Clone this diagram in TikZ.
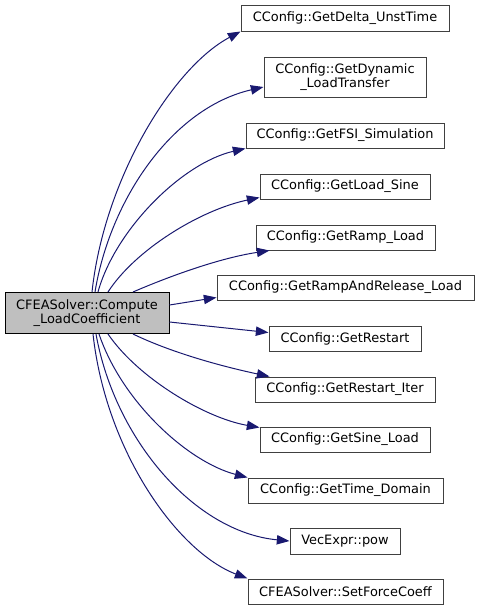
\documentclass[tikz,border=0pt]{standalone}
\usepackage{fontspec}
\setmainfont{DejaVu Sans}
\usetikzlibrary{arrows.meta,calc}
\definecolor{edgeblue}{HTML}{191970}
\definecolor{boxgray}{HTML}{BFBFBF}
\definecolor{boxborder}{HTML}{404040}
\begin{document}
\begin{tikzpicture}[x=0.75pt,y=-0.75pt,
  cnode/.style={draw=boxborder,fill=white,line width=0.75pt,inner sep=0pt,minimum height=18.75pt,align=center,font=\fontsize{9.7}{10.7}\selectfont},
  rootnode/.style={cnode,draw=black,fill=boxgray},
  callarrow/.style={draw=edgeblue,line width=0.75pt,-{Triangle[length=9.5pt,width=7pt]},fill=none}]
\useasboundingbox (0,0) rectangle (479,611);
\node[rootnode,minimum width=123pt,minimum height=30.75pt] (main) at (87,313) {CFEASolver::Compute\\\_LoadCoefficient};
\node[cnode,minimum width=156pt,minimum height=19.5pt] (t1) at (345,18) {CConfig::GetDelta\_UnstTime};
\node[cnode,minimum width=121.5pt,minimum height=30pt] (t2) at (345,77) {CConfig::GetDynamic\\\_LoadTransfer};
\node[cnode,minimum width=148.5pt] (t3) at (345,135.5) {CConfig::GetFSI\_Simulation};
\node[cnode,minimum width=127.5pt] (t4) at (345,186.5) {CConfig::GetLoad\_Sine};
\node[cnode,minimum width=134.25pt] (t5) at (345.5,237.5) {CConfig::GetRamp\_Load};
\node[cnode,minimum width=192.75pt] (t6) at (345.5,287.5) {CConfig::GetRampAndRelease\_Load};
\node[cnode,minimum width=114pt] (t7) at (345,338.5) {CConfig::GetRestart};
\node[cnode,minimum width=135pt] (t8) at (345,389.5) {CConfig::GetRestart\_Iter};
\node[cnode,minimum width=127.5pt] (t9) at (345,439.5) {CConfig::GetSine\_Load};
\node[cnode,minimum width=146.25pt] (t10) at (345.5,490.5) {CConfig::GetTime\_Domain};
\node[cnode,minimum width=82.5pt,minimum height=19.5pt] (t11) at (345,541) {VecExpr::pow};
\node[cnode,minimum width=146.25pt] (t12) at (345.5,591.5) {CFEASolver::SetForceCoeff};
% upper edges
\draw[callarrow] ($(main.north)+(5,0)$) .. controls (104,180) and (172,68) .. (t1.south west);
\draw[callarrow] ($(main.north)+(8,0)$) .. controls (110,200) and (172,108) .. ($(t2.west)+(0,10)$);
\draw[callarrow] ($(main.north)+(11,0)$) .. controls (115,230) and (182,163) .. (t3.south west);
\draw[callarrow] ($(main.north)+(21,0)$) .. controls (135,250) and (200,210) .. ($(t4.south west)+(0,-2)$);
\draw[callarrow] ($(main.north)+(46,0)$) .. controls (170,276) and (220,258) .. ($(t5.south west)+(14,0)$);
\draw[callarrow] ($(main.east)+(0,-8)$) -- ($(t6.south west)+(0,-3)$);
\draw[callarrow] ($(main.east)+(0,9)$) -- ($(t7.west)+(0,-6)$);
% lower edges
\draw[callarrow] ($(main.south)+(46,0)$) .. controls (170,352) and (220,366) .. ($(t8.north west)+(15,0)$);
\draw[callarrow] ($(main.south)+(21,0)$) .. controls (138,378) and (205,418) .. ($(t9.north west)+(0,1)$);
\draw[callarrow] ($(main.south)+(12,0)$) .. controls (122,402) and (188,462) .. (t10.north west);
\draw[callarrow] ($(main.south)+(9,0)$) .. controls (115,440) and (195,532) .. (t11.west);
\draw[callarrow] ($(main.south)+(6,0)$) .. controls (106,452) and (178,552) .. (t12.north west);
\end{tikzpicture}
\end{document}
